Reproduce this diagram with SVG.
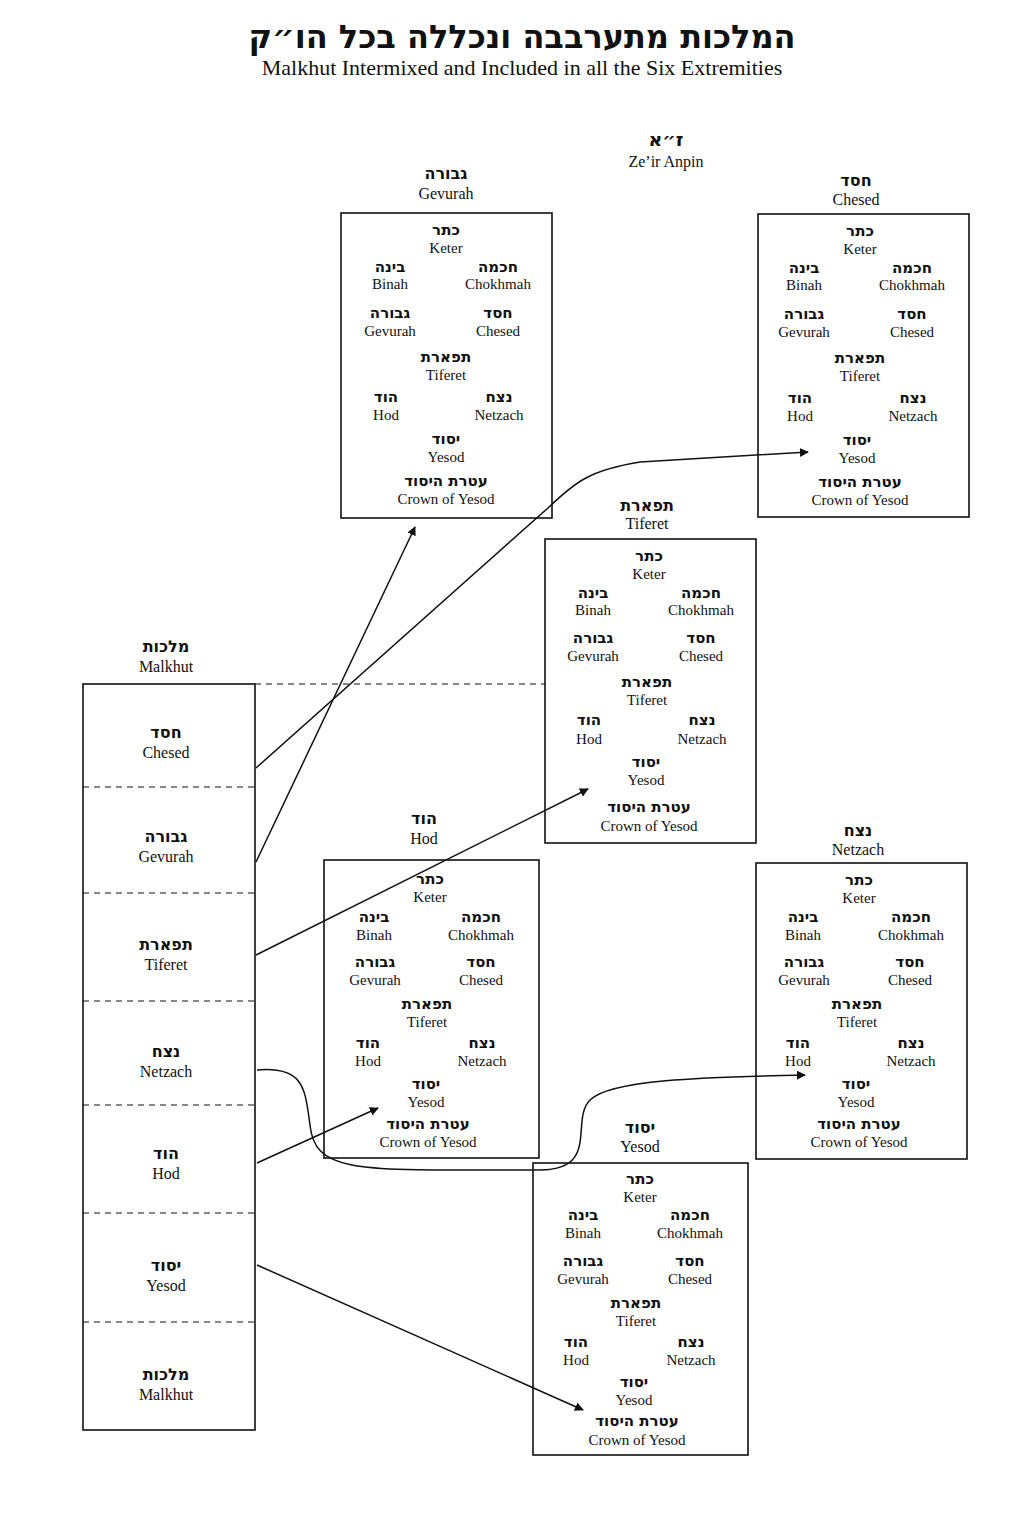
<svg xmlns="http://www.w3.org/2000/svg" width="1033" height="1522" viewBox="0 0 1033 1522">
<style>
text{text-anchor:middle;fill:#111}
.h{font-family:"DejaVu Sans","Liberation Sans",sans-serif;font-size:15px;font-weight:bold}
.l{font-family:"Liberation Serif",serif;font-size:15px}
.box{fill:#fff;stroke:#111;stroke-width:1.6}
.dash{stroke:#111;stroke-width:1.2;stroke-dasharray:6 5;fill:none}
.con{stroke:#111;stroke-width:1.5;fill:none;marker-end:url(#ah)}
</style>
<defs>
<marker id="ah" viewBox="0 0 10 10" refX="9" refY="5" markerWidth="9" markerHeight="9" markerUnits="userSpaceOnUse" orient="auto"><path d="M0,0 L10,5 L0,10 z" fill="#111"/></marker>
</defs>
<rect width="1033" height="1522" fill="#fff"/>
<g id="title">
<text x="522" y="48" class="h" style="font-size:32px">המלכות מתערבבה ונכללה בכל הו״ק</text>
<text x="522" y="75" class="l" style="font-size:22px">Malkhut Intermixed and Included in all the Six Extremities</text>
<text x="666" y="146" class="h" style="font-size:19px">ז״א</text>
<text x="666" y="167" class="l" style="font-size:16px">Ze’ir Anpin</text>
</g>
<g id="malkhut">
<text x="166" y="652" class="h" style="font-size:16px">מלכות</text>
<text x="166" y="672" class="l" style="font-size:16px">Malkhut</text>
<rect x="83" y="684" width="172" height="746" class="box"/>
<path d="M83,787H255M83,893H255M83,1001H255M83,1105H255M83,1213H255M83,1322H255" class="dash"/>
<text x="166" y="738" class="h" style="font-size:16px">חסד</text><text x="166" y="758" class="l" style="font-size:16px">Chesed</text>
<text x="166" y="842" class="h" style="font-size:16px">גבורה</text><text x="166" y="862" class="l" style="font-size:16px">Gevurah</text>
<text x="166" y="950" class="h" style="font-size:16px">תפארת</text><text x="166" y="970" class="l" style="font-size:16px">Tiferet</text>
<text x="166" y="1057" class="h" style="font-size:16px">נצח</text><text x="166" y="1077" class="l" style="font-size:16px">Netzach</text>
<text x="166" y="1159" class="h" style="font-size:16px">הוד</text><text x="166" y="1179" class="l" style="font-size:16px">Hod</text>
<text x="166" y="1271" class="h" style="font-size:16px">יסוד</text><text x="166" y="1291" class="l" style="font-size:16px">Yesod</text>
<text x="166" y="1380" class="h" style="font-size:16px">מלכות</text><text x="166" y="1400" class="l" style="font-size:16px">Malkhut</text>
</g>
<g id="gevurah" transform="translate(446,213)">
<text x="0" y="-34" class="h" style="font-size:16px">גבורה</text><text x="0" y="-14" class="l" style="font-size:16px">Gevurah</text>
<rect x="-105" y="0" width="211" height="305" class="box"/>
<text x="0" y="22" class="h">כתר</text><text x="0" y="40" class="l">Keter</text>
<text x="-56" y="59" class="h">בינה</text><text x="-56" y="76" class="l">Binah</text>
<text x="52" y="59" class="h">חכמה</text><text x="52" y="76" class="l">Chokhmah</text>
<text x="-56" y="105" class="h">גבורה</text><text x="-56" y="123" class="l">Gevurah</text>
<text x="52" y="105" class="h">חסד</text><text x="52" y="123" class="l">Chesed</text>
<text x="0" y="149" class="h">תפארת</text><text x="0" y="167" class="l">Tiferet</text>
<text x="-60" y="189" class="h">הוד</text><text x="-60" y="207" class="l">Hod</text>
<text x="53" y="189" class="h">נצח</text><text x="53" y="207" class="l">Netzach</text>
<text x="0" y="231" class="h">יסוד</text><text x="0" y="249" class="l">Yesod</text>
<text x="0" y="273" class="h">עטרת היסוד</text><text x="0" y="291" class="l">Crown of Yesod</text>
</g>
<g id="chesed" transform="translate(860,214)">
<text x="-4" y="-28" class="h" style="font-size:16px">חסד</text><text x="-4" y="-9" class="l" style="font-size:16px">Chesed</text>
<rect x="-102" y="0" width="211" height="303" class="box"/>
<text x="0" y="22" class="h">כתר</text><text x="0" y="40" class="l">Keter</text>
<text x="-56" y="59" class="h">בינה</text><text x="-56" y="76" class="l">Binah</text>
<text x="52" y="59" class="h">חכמה</text><text x="52" y="76" class="l">Chokhmah</text>
<text x="-56" y="105" class="h">גבורה</text><text x="-56" y="123" class="l">Gevurah</text>
<text x="52" y="105" class="h">חסד</text><text x="52" y="123" class="l">Chesed</text>
<text x="0" y="149" class="h">תפארת</text><text x="0" y="167" class="l">Tiferet</text>
<text x="-60" y="189" class="h">הוד</text><text x="-60" y="207" class="l">Hod</text>
<text x="53" y="189" class="h">נצח</text><text x="53" y="207" class="l">Netzach</text>
<text x="-3" y="231" class="h">יסוד</text><text x="-3" y="249" class="l">Yesod</text>
<text x="0" y="273" class="h">עטרת היסוד</text><text x="0" y="291" class="l">Crown of Yesod</text>
</g>
<g id="tiferet" transform="translate(649,539)">
<text x="-2" y="-28" class="h" style="font-size:16px">תפארת</text><text x="-2" y="-10" class="l" style="font-size:16px">Tiferet</text>
<rect x="-104" y="0" width="211" height="304" class="box"/>
<text x="0" y="22" class="h">כתר</text><text x="0" y="40" class="l">Keter</text>
<text x="-56" y="59" class="h">בינה</text><text x="-56" y="76" class="l">Binah</text>
<text x="52" y="59" class="h">חכמה</text><text x="52" y="76" class="l">Chokhmah</text>
<text x="-56" y="104" class="h">גבורה</text><text x="-56" y="122" class="l">Gevurah</text>
<text x="52" y="104" class="h">חסד</text><text x="52" y="122" class="l">Chesed</text>
<text x="-2" y="148" class="h">תפארת</text><text x="-2" y="166" class="l">Tiferet</text>
<text x="-60" y="186" class="h">הוד</text><text x="-60" y="205" class="l">Hod</text>
<text x="53" y="186" class="h">נצח</text><text x="53" y="205" class="l">Netzach</text>
<text x="-3" y="228" class="h">יסוד</text><text x="-3" y="246" class="l">Yesod</text>
<text x="0" y="273" class="h">עטרת היסוד</text><text x="0" y="292" class="l">Crown of Yesod</text>
</g>
<g id="hod" transform="translate(430,860)">
<text x="-6" y="-36" class="h" style="font-size:16px">הוד</text><text x="-6" y="-16" class="l" style="font-size:16px">Hod</text>
<rect x="-106" y="0" width="215" height="298" class="box"/>
<text x="0" y="24" class="h">כתר</text><text x="0" y="42" class="l">Keter</text>
<text x="-56" y="62" class="h">בינה</text><text x="-56" y="80" class="l">Binah</text>
<text x="51" y="62" class="h">חכמה</text><text x="51" y="80" class="l">Chokhmah</text>
<text x="-55" y="107" class="h">גבורה</text><text x="-55" y="125" class="l">Gevurah</text>
<text x="51" y="107" class="h">חסד</text><text x="51" y="125" class="l">Chesed</text>
<text x="-3" y="149" class="h">תפארת</text><text x="-3" y="167" class="l">Tiferet</text>
<text x="-62" y="188" class="h">הוד</text><text x="-62" y="206" class="l">Hod</text>
<text x="52" y="188" class="h">נצח</text><text x="52" y="206" class="l">Netzach</text>
<text x="-4" y="229" class="h">יסוד</text><text x="-4" y="247" class="l">Yesod</text>
<text x="-2" y="269" class="h">עטרת היסוד</text><text x="-2" y="287" class="l">Crown of Yesod</text>
</g>
<g id="netzach" transform="translate(859,863)">
<text x="-1" y="-27" class="h" style="font-size:16px">נצח</text><text x="-1" y="-8" class="l" style="font-size:16px">Netzach</text>
<rect x="-103" y="0" width="211" height="296" class="box"/>
<text x="0" y="22" class="h">כתר</text><text x="0" y="40" class="l">Keter</text>
<text x="-56" y="59" class="h">בינה</text><text x="-56" y="77" class="l">Binah</text>
<text x="52" y="59" class="h">חכמה</text><text x="52" y="77" class="l">Chokhmah</text>
<text x="-55" y="104" class="h">גבורה</text><text x="-55" y="122" class="l">Gevurah</text>
<text x="51" y="104" class="h">חסד</text><text x="51" y="122" class="l">Chesed</text>
<text x="-2" y="146" class="h">תפארת</text><text x="-2" y="164" class="l">Tiferet</text>
<text x="-61" y="185" class="h">הוד</text><text x="-61" y="203" class="l">Hod</text>
<text x="52" y="185" class="h">נצח</text><text x="52" y="203" class="l">Netzach</text>
<text x="-3" y="226" class="h">יסוד</text><text x="-3" y="244" class="l">Yesod</text>
<text x="0" y="266" class="h">עטרת היסוד</text><text x="0" y="284" class="l">Crown of Yesod</text>
</g>
<g id="yesod" transform="translate(640,1163)">
<text x="0" y="-30" class="h" style="font-size:16px">יסוד</text><text x="0" y="-11" class="l" style="font-size:16px">Yesod</text>
<rect x="-107" y="0" width="215" height="292" class="box"/>
<text x="0" y="21" class="h">כתר</text><text x="0" y="39" class="l">Keter</text>
<text x="-57" y="57" class="h">בינה</text><text x="-57" y="75" class="l">Binah</text>
<text x="50" y="57" class="h">חכמה</text><text x="50" y="75" class="l">Chokhmah</text>
<text x="-57" y="103" class="h">גבורה</text><text x="-57" y="121" class="l">Gevurah</text>
<text x="50" y="103" class="h">חסד</text><text x="50" y="121" class="l">Chesed</text>
<text x="-4" y="145" class="h">תפארת</text><text x="-4" y="163" class="l">Tiferet</text>
<text x="-64" y="184" class="h">הוד</text><text x="-64" y="202" class="l">Hod</text>
<text x="51" y="184" class="h">נצח</text><text x="51" y="202" class="l">Netzach</text>
<text x="-6" y="224" class="h">יסוד</text><text x="-6" y="242" class="l">Yesod</text>
<text x="-3" y="263" class="h">עטרת היסוד</text><text x="-3" y="282" class="l">Crown of Yesod</text>
</g>
<g id="connectors">
<path d="M255,684H545" class="dash"/>
<path d="M256,768 L548,508 C575,482 590,470 640,462 L808,452" class="con"/>
<path d="M256,862 L415,527" class="con"/>
<path d="M256,955 L588,789" class="con"/>
<path d="M257,1070 C305,1066 305,1090 310,1125 C315,1175 360,1170 540,1170 C600,1170 570,1120 590,1100 C610,1080 700,1077 805,1075" class="con"/>
<path d="M257,1163 L378,1108" class="con"/>
<path d="M257,1265 L583,1410" class="con"/>
</g>
</svg>
